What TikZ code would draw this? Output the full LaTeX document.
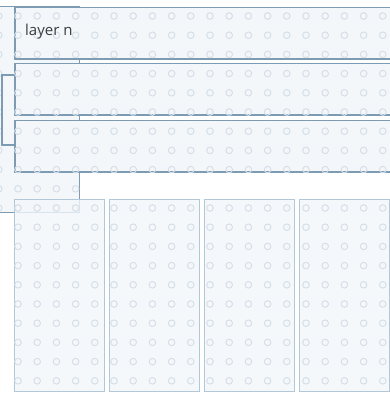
\documentclass[tikz,border=0pt]{standalone}
\usepackage{fontspec}
\setmainfont{Open Sans}
\definecolor{boxfill}{HTML}{F3F7FA}
\definecolor{boxline}{HTML}{7D9CB4}
\definecolor{colline}{HTML}{B2C8D9}
\definecolor{dotc}{HTML}{D6DFE8}
\definecolor{textc}{HTML}{3C3C3C}
\newcommand\dotgrid{\foreach \gx in {-1.2,18,...,400}{\foreach \gy in {16,35.2,...,400}{\draw[dotstyle] (\gx,\gy) circle[radius=3.3pt];}}}
\newcommand\dotsin[1]{\begin{scope}\clip (#1.north west) rectangle (#1.south east);\dotgrid\end{scope}}
\begin{document}
\begin{tikzpicture}[x=1pt,y=-1pt,
  panelbox/.style={draw=boxline,line width=1.3pt,fill=boxfill,inner sep=0pt,anchor=north west,minimum width=85pt,minimum height=206pt},
  layerbox/.style={draw=boxline,line width=1.5pt,fill=boxfill,inner sep=0pt,anchor=north west,minimum width=390pt,minimum height=51.5pt},
  colbox/.style={draw=colline,line width=1.4pt,fill=boxfill,fill opacity=0.8,inner sep=0pt,anchor=north west,minimum width=90pt,minimum height=191.5pt},
  dotstyle/.style={draw=dotc,line width=1pt},
  link/.style={draw=boxline,line width=1.5pt}]
\clip (0,0) rectangle (390,394);
\fill[white] (0,0) rectangle (390,394);
% back panel
\node[panelbox] (P) at (-6,6) {};
\dotsin{P}
% layer boxes
\node[layerbox] (L1) at (14,6.5) {};
\dotsin{L1}
\node[layerbox] (L2) at (14,62.5) {};
\dotsin{L2}
\node[layerbox] (L3) at (14,119.5) {};
\dotsin{L3}
\node[font=\fontsize{15}{18}\selectfont, text=textc, anchor=base west, inner sep=0pt] (T) at (25,35) {layer n};
% bracket
\coordinate (b1) at (2,75);
\coordinate (b2) at (2,145);
\draw[link] (L2.west |- b1) -- (b1) -- (b2) -- (L3.west |- b2);
% columns
\node[colbox] (C1) at (14,199) {};
\dotsin{C1}
\node[colbox] (C2) at (109,199) {};
\dotsin{C2}
\node[colbox] (C3) at (204,199) {};
\dotsin{C3}
\node[colbox] (C4) at (299,199) {};
\dotsin{C4}
\end{tikzpicture}
\end{document}
